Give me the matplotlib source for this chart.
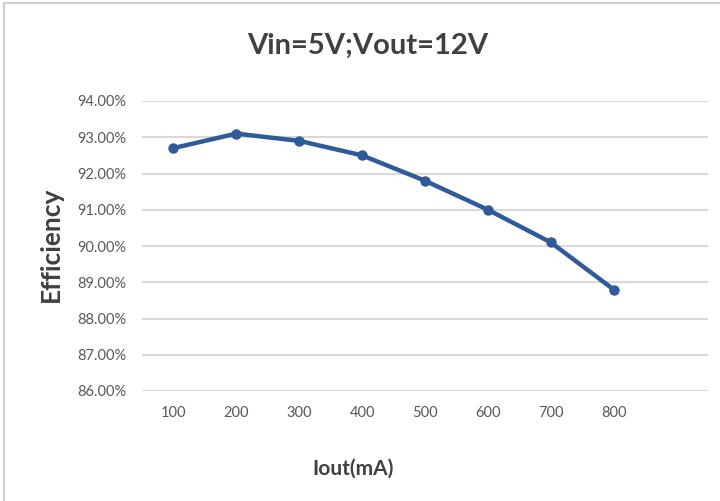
import matplotlib
matplotlib.use("Agg")
import matplotlib.pyplot as plt
from matplotlib.ticker import FuncFormatter
from matplotlib.patches import Rectangle

# 数据 (读自图片)
iout = ["100", "200", "300", "400", "500", "600", "700", "800"]
efficiency = [92.7, 93.1, 92.9, 92.5, 91.8, 91.0, 90.1, 88.8]
yticks = [86, 87, 88, 89, 90, 91, 92, 93, 94]

plt.rcParams['font.family'] = ['Lato', 'DejaVu Sans']

fig = plt.figure(figsize=(7.2, 5.01), dpi=100)
ax = fig.add_axes([142 / 720, 1 - 391 / 501, (708 - 142) / 720, (391 - 101) / 501])

x = list(range(len(iout)))
ax.plot(x, efficiency, color="#2f5b9c", linewidth=3.2, marker="o", markersize=6.5,
        solid_capstyle="round", zorder=3)

ax.set_xlim(-0.5, 8.5)
ax.set_ylim(86, 94)
ax.set_yticks(yticks)
ax.yaxis.set_major_formatter(FuncFormatter(lambda v, p: "%.2f%%" % v))
ax.set_xticks(x)
ax.set_xticklabels(iout)
ax.tick_params(length=0, labelsize=10.5, labelcolor="#595959")
ax.tick_params(axis="y", pad=11)
ax.tick_params(axis="x", pad=11)
ax.grid(axis="y", color="#d9d9d9", linewidth=1.5)
ax.set_axisbelow(True)
for s in ax.spines.values():
    s.set_visible(False)

fig.text(368 / 720, 1 - 46 / 501, "Vin=5V;Vout=12V", ha="center", va="center",
         fontsize=21, fontweight="bold", color="#404040")
fig.text(51 / 720, 1 - 244 / 501, "Efficiency", ha="center", va="center",
         rotation=90, fontsize=19, fontweight="bold", color="#404040")
fig.text(353 / 720, 1 - 469 / 501, "Iout(mA)", ha="center", va="center",
         fontsize=15, fontweight="bold", color="#404040")

# 外框
fig.patches.append(Rectangle((4 / 720, -0.1), 1.2, 1 - 3 / 501 + 0.1,
                             transform=fig.transFigure, fill=False,
                             edgecolor="#d0d0d0", linewidth=1.5))

fig.savefig("out.png", dpi=100)
